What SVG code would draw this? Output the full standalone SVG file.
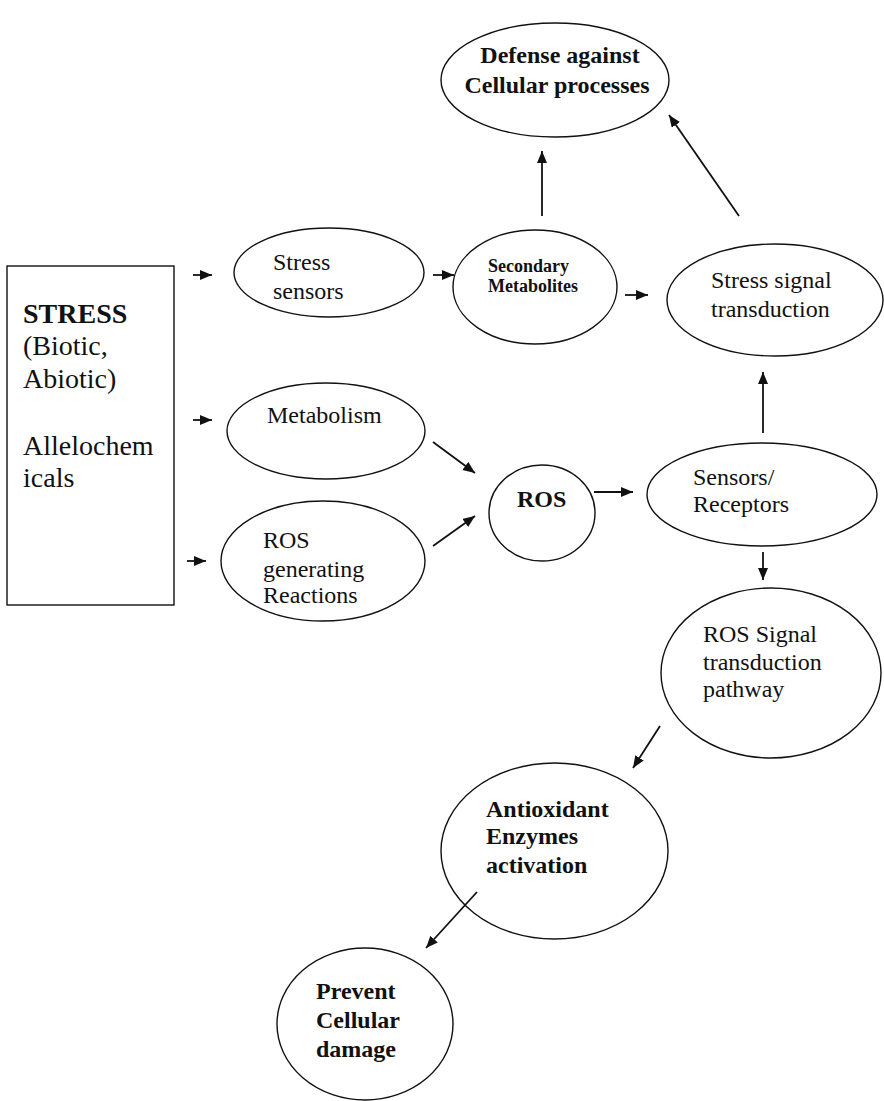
<svg xmlns="http://www.w3.org/2000/svg" width="884" height="1101" viewBox="0 0 884 1101">
  <style>
    .node { fill: #ffffff; stroke: #111111; stroke-width: 1.4; }
    .lbl { font-family: "Liberation Serif", "Times New Roman", serif; font-size: 24px; fill: #111111; }
    .b { font-weight: bold; }
    .big { font-size: 28px; }
    .small { font-size: 18px; }
    .conn { stroke: #111111; stroke-width: 1.8; fill: none; marker-end: url(#arrow); }
  </style>
  <defs>
    <marker id="arrow" markerUnits="userSpaceOnUse" markerWidth="14" markerHeight="12" refX="12" refY="5" orient="auto">
      <path d="M0,0 L12,5 L0,10 Z" fill="#111111"/>
    </marker>
  </defs>
  <rect width="884" height="1101" fill="#ffffff"/>

  <!-- source box -->
  <g id="stress">
    <rect class="node" x="7" y="266" width="167" height="339"/>
    <text class="lbl big b" x="23" y="323">STRESS</text>
    <text class="lbl big" x="23" y="355">(Biotic,</text>
    <text class="lbl big" x="23" y="388">Abiotic)</text>
    <text class="lbl big" x="23" y="455">Allelochem</text>
    <text class="lbl big" x="23" y="487">icals</text>
  </g>

  <g id="stress-sensors">
    <ellipse class="node" cx="329" cy="272.5" rx="95" ry="44.5"/>
    <text class="lbl" x="273" y="270">Stress</text>
    <text class="lbl" x="273" y="299">sensors</text>
  </g>

  <g id="metabolism">
    <ellipse class="node" cx="326" cy="431" rx="99" ry="48"/>
    <text class="lbl" x="267" y="423">Metabolism</text>
  </g>

  <g id="ros-generating">
    <ellipse class="node" cx="323" cy="561" rx="102" ry="60"/>
    <text class="lbl" x="263" y="548">ROS</text>
    <text class="lbl" x="263" y="577">generating</text>
    <text class="lbl" x="263" y="603">Reactions</text>
  </g>

  <g id="ros">
    <ellipse class="node" cx="542" cy="513" rx="53" ry="48"/>
    <text class="lbl b" x="517" y="507">ROS</text>
  </g>

  <g id="secondary-metabolites">
    <ellipse class="node" cx="535" cy="287" rx="82" ry="57"/>
    <text class="lbl small b" x="488" y="272">Secondary</text>
    <text class="lbl small b" x="488" y="292">Metabolites</text>
  </g>

  <g id="defense">
    <ellipse class="node" cx="555" cy="80" rx="114" ry="57"/>
    <text class="lbl b" x="560" y="63" text-anchor="middle">Defense against</text>
    <text class="lbl b" x="557" y="93" text-anchor="middle">Cellular processes</text>
  </g>

  <g id="stress-signal">
    <ellipse class="node" cx="775" cy="300" rx="108" ry="56"/>
    <text class="lbl" x="711" y="288">Stress signal</text>
    <text class="lbl" x="711" y="317">transduction</text>
  </g>

  <g id="sensors-receptors">
    <ellipse class="node" cx="762" cy="494.5" rx="115" ry="51.5"/>
    <text class="lbl" x="693" y="485">Sensors/</text>
    <text class="lbl" x="693" y="512">Receptors</text>
  </g>

  <g id="ros-signal">
    <ellipse class="node" cx="771" cy="673" rx="110" ry="85"/>
    <text class="lbl" x="703" y="642">ROS Signal</text>
    <text class="lbl" x="703" y="670">transduction</text>
    <text class="lbl" x="703" y="697">pathway</text>
  </g>

  <g id="antioxidant">
    <ellipse class="node" cx="554.5" cy="851" rx="113.5" ry="88"/>
    <text class="lbl b" x="486" y="817">Antioxidant</text>
    <text class="lbl b" x="486" y="844">Enzymes</text>
    <text class="lbl b" x="486" y="873">activation</text>
  </g>

  <g id="prevent">
    <ellipse class="node" cx="365" cy="1024" rx="88" ry="76"/>
    <text class="lbl b" x="316" y="999">Prevent</text>
    <text class="lbl b" x="316" y="1028">Cellular</text>
    <text class="lbl b" x="316" y="1057">damage</text>
  </g>

  <g id="connectors">
    <line class="conn" x1="193" y1="275" x2="212" y2="275"/>
    <line class="conn" x1="193" y1="420" x2="212" y2="420"/>
    <line class="conn" x1="187" y1="561" x2="206" y2="561"/>
    <line class="conn" x1="433" y1="442" x2="475" y2="473"/>
    <line class="conn" x1="433" y1="546" x2="475" y2="516"/>
    <line class="conn" x1="594" y1="492" x2="633" y2="492"/>
    <line class="conn" x1="433" y1="275" x2="454" y2="275"/>
    <line class="conn" x1="625" y1="295" x2="648" y2="295"/>
    <line class="conn" x1="542" y1="216" x2="542" y2="151"/>
    <line class="conn" x1="739" y1="216" x2="669" y2="115"/>
    <line class="conn" x1="763" y1="433" x2="763" y2="372"/>
    <line class="conn" x1="763" y1="552" x2="763" y2="580"/>
    <line class="conn" x1="660" y1="726" x2="633" y2="768"/>
    <line class="conn" x1="477" y1="892" x2="426" y2="948"/>
  </g>
</svg>
